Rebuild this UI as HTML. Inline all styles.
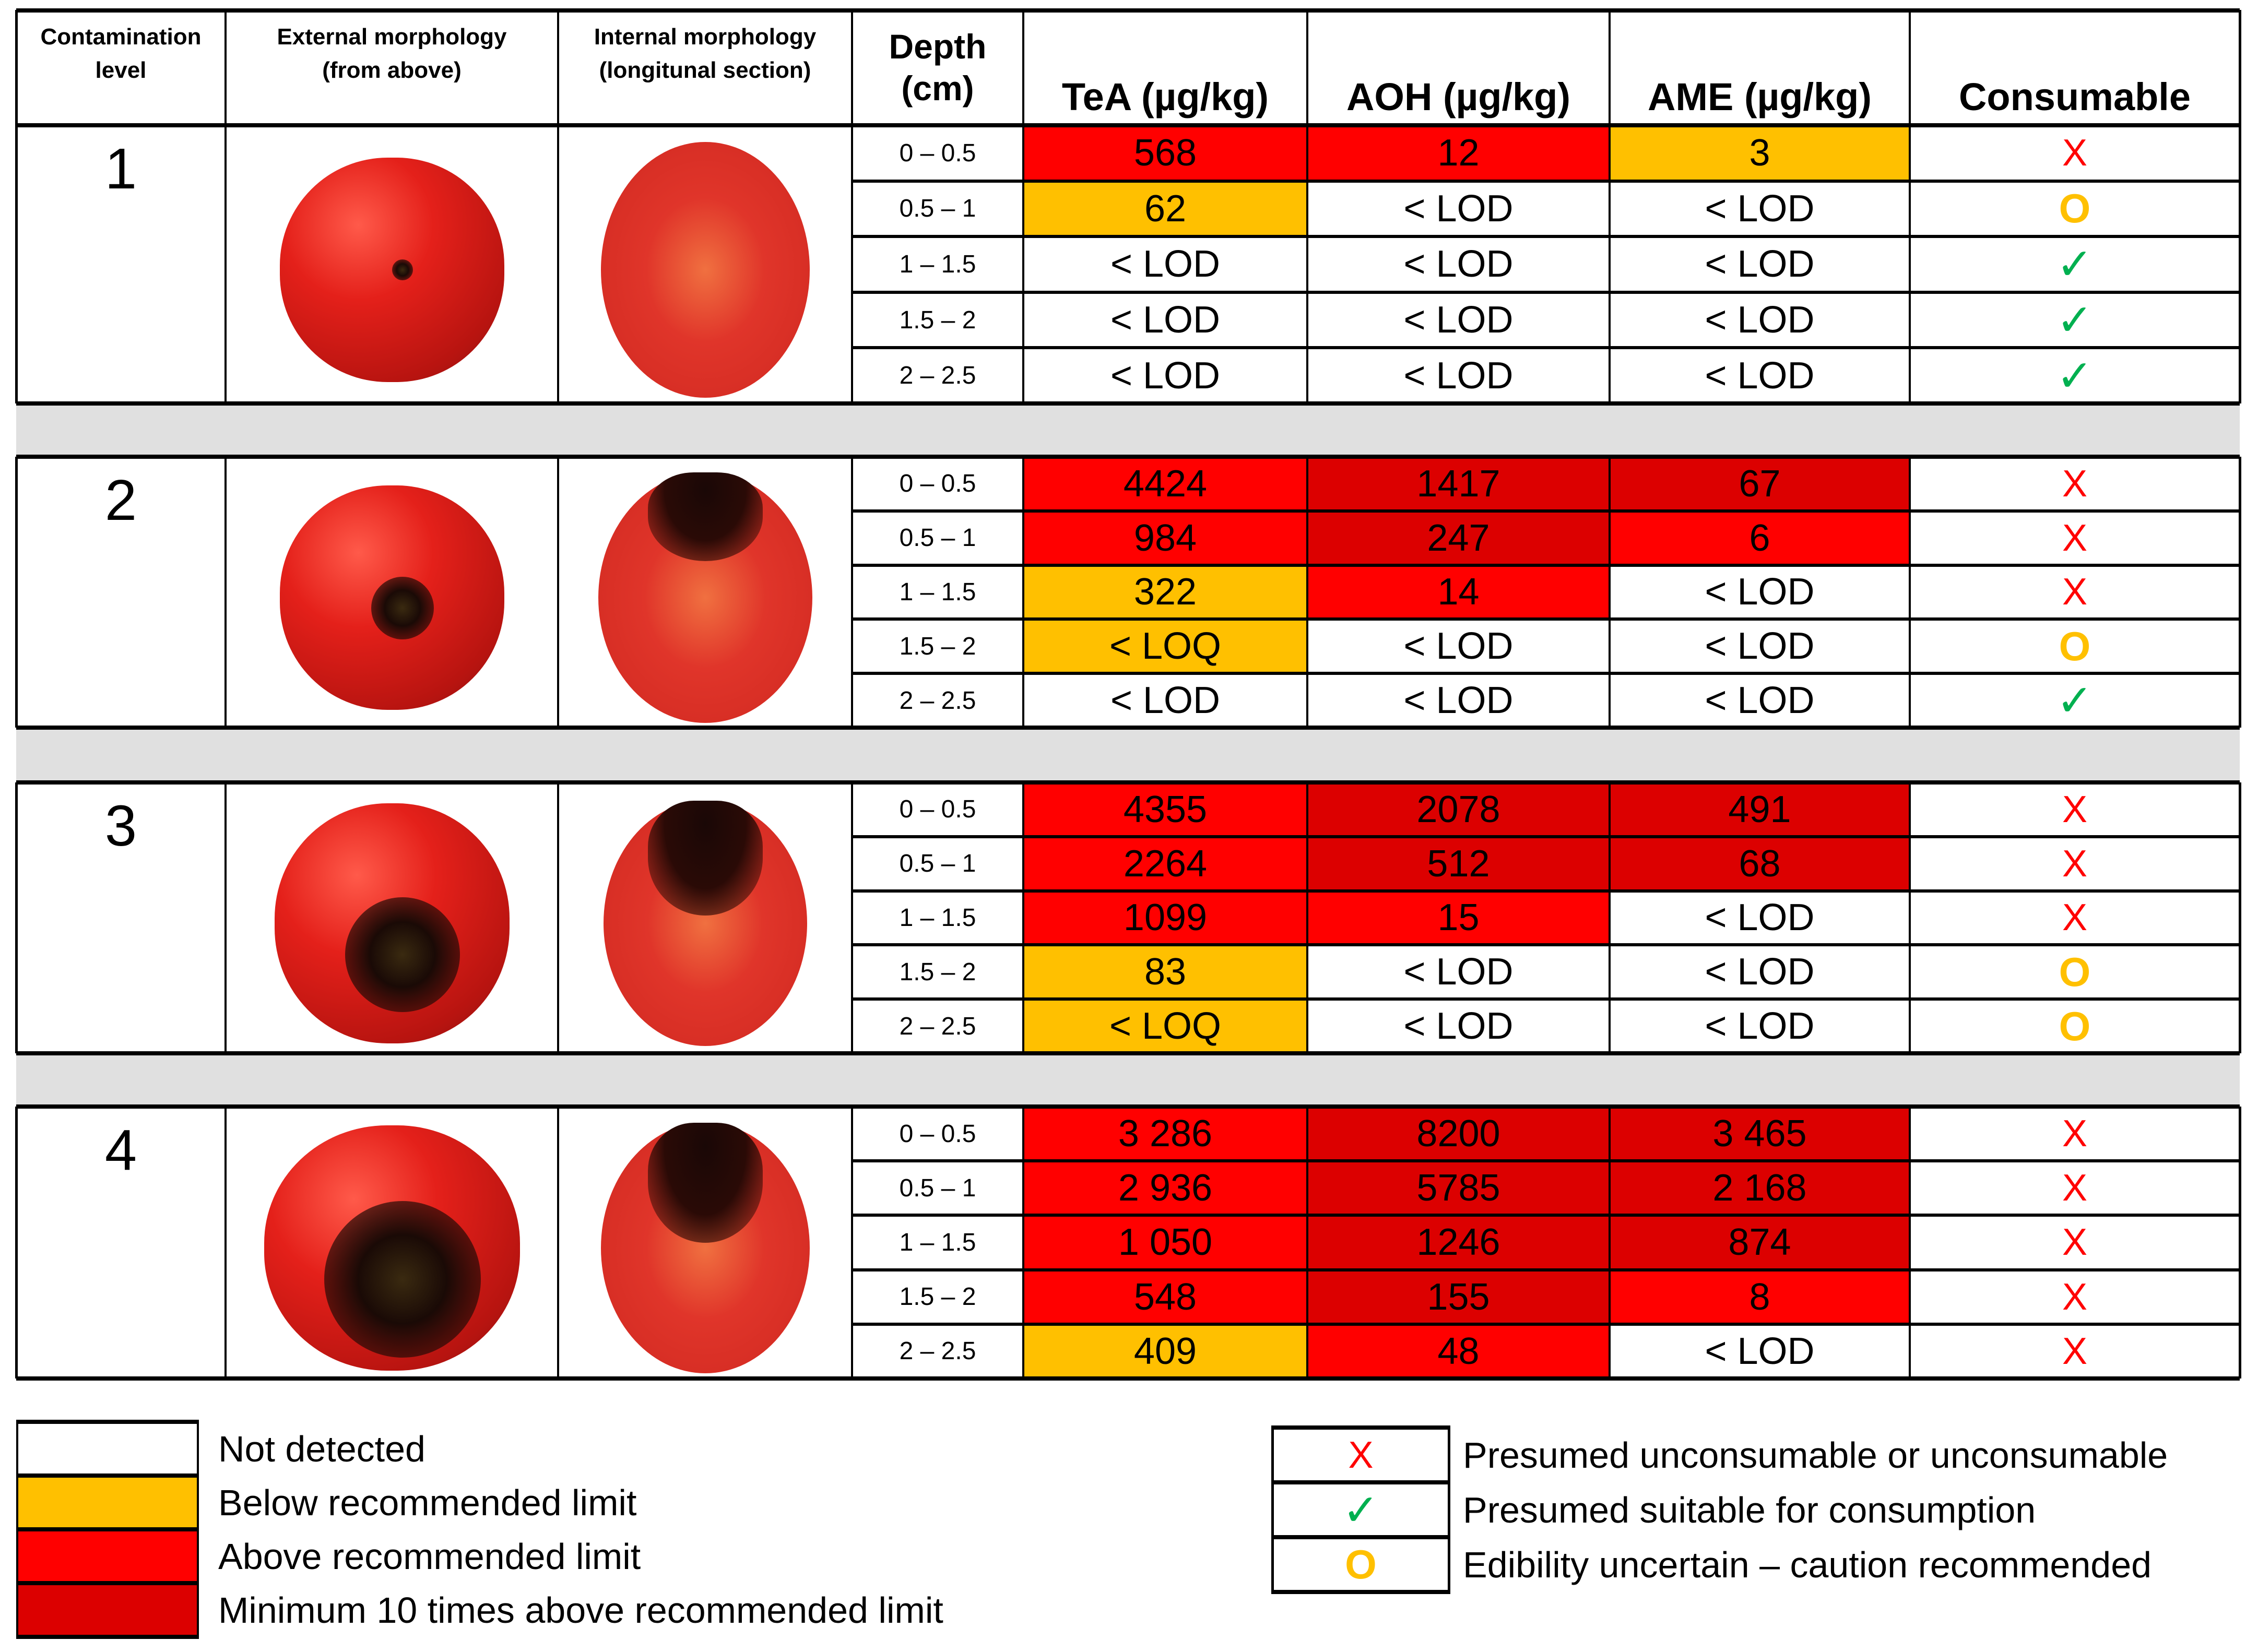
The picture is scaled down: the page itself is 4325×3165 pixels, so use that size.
<!DOCTYPE html>
<html><head><meta charset="utf-8"><style>
body{margin:0;width:4325px;height:3165px;background:#fff;position:relative;overflow:hidden;font-family:"Liberation Sans",sans-serif;}
.a{position:absolute;box-sizing:border-box;}
.t{display:flex;align-items:center;justify-content:center;text-align:center;}
.hl{position:absolute;background:#000;}
</style></head><body>
<div id="root"></div>
<script>
const levels=['1','2','3','4'];
const depths=['0 – 0.5','0.5 – 1','1 – 1.5','1.5 – 2','2 – 2.5'];
const teaVals=[['568','62','< LOD','< LOD','< LOD'],['4424','984','322','< LOQ','< LOD'],['4355','2264','1099','83','< LOQ'],['3 286','2 936','1 050','548','409']];
const teaCls=[['R','O','W','W','W'],['R','R','O','O','W'],['R','R','R','O','O'],['R','R','R','R','O']];
const aohVals=[['12','< LOD','< LOD','< LOD','< LOD'],['1417','247','14','< LOD','< LOD'],['2078','512','15','< LOD','< LOD'],['8200','5785','1246','155','48']];
const aohCls=[['R','W','W','W','W'],['D','D','R','W','W'],['D','D','R','W','W'],['D','D','D','D','R']];
const ameVals=[['3','< LOD','< LOD','< LOD','< LOD'],['67','6','< LOD','< LOD','< LOD'],['491','68','< LOD','< LOD','< LOD'],['3 465','2 168','874','8','< LOD']];
const ameCls=[['O','W','W','W','W'],['D','R','W','W','W'],['D','D','W','W','W'],['D','D','D','R','W']];
const consVals=[['x','o','v','v','v'],['x','x','x','o','v'],['x','x','x','o','o'],['x','x','x','x','x']];

const col={R:'#FF0000',O:'#FFC000',D:'#DC0000',W:'#fff'};
const cx=[31,432,1069,1632,1960,2504,3083,3658,4290];
const top0=19,headB=240;
const gTop=[240,875,1499,2120],gBot=[773,1394,2018,2641];
const root=document.getElementById('root');
function box(x,y,w,h,css,txt){const d=document.createElement('div');d.className='a t';d.style.cssText+=`left:${x}px;top:${y}px;width:${w}px;height:${h}px;`+(css||'');if(txt!==undefined)d.innerHTML=txt;root.appendChild(d);return d;}
function line(x,y,w,h){const d=document.createElement('div');d.className='hl';d.style.cssText=`left:${x}px;top:${y}px;width:${w}px;height:${h}px;`;root.appendChild(d);

return d;}
function sym(s){if(s==='x')return '<span style="color:#FF0000;font-size:72px;">X</span>';if(s==='o')return '<span style="color:#FFC000;font-size:78px;font-weight:bold;">O</span>';return '<span style="color:#00B050;font-size:84px;">✓</span>';}

const hdrs=['Contamination<br>level','External morphology<br>(from above)','Internal morphology<br>(longitunal section)','Depth<br>(cm)','TeA (µg/kg)','AOH (µg/kg)','AME (µg/kg)','Consumable'];
hdrs.forEach((h,i)=>{
 let css='font-weight:bold;';
 if(i<3)css+='font-size:44px;align-items:flex-start;padding-top:20px;line-height:1.45;';
 else if(i==3)css+='font-size:66px;line-height:1.2;';
 else css+='font-size:74px;align-items:flex-end;padding-bottom:12px;';
 const d=box(cx[i],top0,cx[i+1]-cx[i],headB-top0,css,h);
 
 
});
line(cx[0],top0-3,cx[8]-cx[0],8);
line(cx[0],headB-4,cx[8]-cx[0],8);

levels.forEach((lv,g)=>{
 const y=gTop[g];
 const gh=gBot[g]-gTop[g];
 const rowH=gh/5;
 const ln=box(cx[0],y,cx[1]-cx[0],gh,'font-size:110px;align-items:flex-start;padding-top:20px;',lv);
 
 
 const ext=box(cx[1],y,cx[2]-cx[1],gh,'');
 
 
 const e=document.createElement('div');e.className='a';
 const rx=[215,215,225,245][g],ry=[215,215,230,235][g];
 e.style.cssText=`left:${(cx[2]-cx[1])/2-rx}px;top:${gh/2-ry+10}px;width:${2*rx}px;height:${2*ry}px;border-radius:48%;background:radial-gradient(circle at 35% 30%,#ff5a4a 0%,#e4201a 35%,#b81410 75%,#8a0e0c 100%);`;
 ext.appendChild(e);
 const sp=document.createElement('div');sp.className='a';
 const sr=[20,60,110,150][g];
 sp.style.cssText=`left:${rx-sr+20}px;top:${ry-sr+[0,20,60,60][g]}px;width:${2*sr}px;height:${2*sr}px;border-radius:50%;background:radial-gradient(circle,#3a2a10 0%,#1a0a06 40%,rgba(40,10,5,0.6) 80%,rgba(0,0,0,0) 100%);`;
 e.appendChild(sp);
 const int=box(cx[2],y,cx[3]-cx[2],gh,'');
 
 
 const ie=document.createElement('div');ie.className='a';
 const irx=[200,205,195,200][g],iry=[245,240,235,240][g];
 ie.style.cssText=`left:${(cx[3]-cx[2])/2-irx}px;top:${gh/2-iry+10}px;width:${2*irx}px;height:${2*iry}px;border-radius:50%;background:radial-gradient(ellipse at 50% 50%,#f07040 0%,#e0352a 40%,#d02820 100%);`;
 int.appendChild(ie);
 if(g>0){const ds=document.createElement('div');ds.className='a';const dh=[0,170,220,230][g];ds.style.cssText=`left:${irx-110}px;top:0;width:220px;height:${dh}px;border-radius:40% 40% 50% 50%;background:radial-gradient(ellipse at 50% 20%,#1a0806 0%,#2a0a06 50%,rgba(80,20,10,0.5) 85%,rgba(0,0,0,0) 100%);`;ie.appendChild(ds);}
 for(let r=0;r<5;r++){
  const ry0=y+r*rowH;
  const dc=box(cx[3],ry0,cx[4]-cx[3],rowH,'font-size:48px;',depths[r]);
  
  
  [[teaVals,teaCls],[aohVals,aohCls],[ameVals,ameCls]].forEach(([v,c],k)=>{
   const d=box(cx[4+k],ry0,cx[5+k]-cx[4+k],rowH,`background:${col[c[g][r]]};font-size:72px;`,v[g][r]);
   
   
  });
  const cc=box(cx[7],ry0,cx[8]-cx[7],rowH,'',sym(consVals[g][r]));
  
  
  if(r>0)line(cx[3],ry0-3,cx[8]-cx[3],6);
 }
 line(cx[0],y-4,cx[8]-cx[0],8);
 line(cx[0],y+gh-4,cx[8]-cx[0],8);
 for(let i=0;i<=8;i++)line(cx[i]-2,y,i==0||i==8?5:4,gh);
 if(g<3){const gr=box(cx[0],gBot[g]+4,cx[8]-cx[0],gTop[g+1]-gBot[g]-8,'background:#E0E0E0;');
  
  }
});
for(let i=0;i<=8;i++)line(cx[i]-2,top0,i==0||i==8?5:4,headB-top0);

const legColors=['#fff','#FFC000','#FF0000','#DC0000'];
const legText=['Not detected','Below recommended limit','Above recommended limit','Minimum 10 times above recommended limit'];
const ly=2724,lh=103;
legColors.forEach((c,i)=>{
 const b=box(31,ly+i*lh,350,lh,`background:${c};border:4px solid #000;`);
 
 
 const t=box(418,ly+i*lh,1700,lh,'font-size:70px;justify-content:flex-start;',legText[i]);
 
 
});
line(31,ly-4,350,8);for(let i=1;i<=4;i++)line(31,ly+i*lh-4,350,8);
const symKeys=['x','v','o'];
const symText=['Presumed unconsumable or unconsumable','Presumed suitable for consumption','Edibility uncertain – caution recommended'];
const ry=2735,rh=105;
symKeys.forEach((s,i)=>{
 const b=box(2435,ry+i*rh,343,rh,'border-left:5px solid #000;border-right:5px solid #000;',sym(s));
 
 
 const t=box(2802,ry+i*rh,1500,rh,'font-size:70px;justify-content:flex-start;',symText[i]);
 
 
});
for(let i=0;i<=3;i++)line(2435,ry+i*rh-4,343,8);
</script>
</body></html>
